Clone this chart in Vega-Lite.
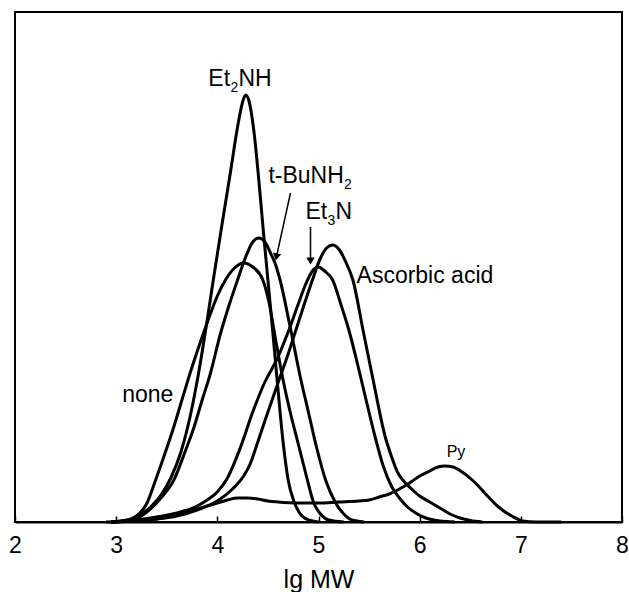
{
  "$schema": "https://vega.github.io/schema/vega-lite/v6.json",
  "width": 607,
  "height": 510,
  "autosize": {"type": "none"},
  "padding": {"left": 15, "top": 12, "right": 7, "bottom": 70},
  "background": "white",
  "config": {
    "view": {"stroke": "black", "strokeWidth": 2},
    "font": "Liberation Sans"
  },
  "datasets": {
    "curves": [
      {"series": "Et2NH", "lgMW": 2.95, "h": 0},
      {"series": "Et2NH", "lgMW": 3.15, "h": 3},
      {"series": "Et2NH", "lgMW": 3.25, "h": 8},
      {"series": "Et2NH", "lgMW": 3.35, "h": 16},
      {"series": "Et2NH", "lgMW": 3.45, "h": 28},
      {"series": "Et2NH", "lgMW": 3.54, "h": 44},
      {"series": "Et2NH", "lgMW": 3.64, "h": 70},
      {"series": "Et2NH", "lgMW": 3.73, "h": 105},
      {"series": "Et2NH", "lgMW": 3.82, "h": 152},
      {"series": "Et2NH", "lgMW": 3.90, "h": 202},
      {"series": "Et2NH", "lgMW": 3.96, "h": 242},
      {"series": "Et2NH", "lgMW": 4.05, "h": 300},
      {"series": "Et2NH", "lgMW": 4.13, "h": 350},
      {"series": "Et2NH", "lgMW": 4.20, "h": 395},
      {"series": "Et2NH", "lgMW": 4.25, "h": 420},
      {"series": "Et2NH", "lgMW": 4.28, "h": 427},
      {"series": "Et2NH", "lgMW": 4.31, "h": 422},
      {"series": "Et2NH", "lgMW": 4.36, "h": 392},
      {"series": "Et2NH", "lgMW": 4.41, "h": 342},
      {"series": "Et2NH", "lgMW": 4.46, "h": 285},
      {"series": "Et2NH", "lgMW": 4.50, "h": 242},
      {"series": "Et2NH", "lgMW": 4.55, "h": 188},
      {"series": "Et2NH", "lgMW": 4.60, "h": 132},
      {"series": "Et2NH", "lgMW": 4.65, "h": 80},
      {"series": "Et2NH", "lgMW": 4.70, "h": 42},
      {"series": "Et2NH", "lgMW": 4.76, "h": 20},
      {"series": "Et2NH", "lgMW": 4.82, "h": 8},
      {"series": "Et2NH", "lgMW": 4.90, "h": 2},
      {"series": "Et2NH", "lgMW": 5.00, "h": 0},

      {"series": "none", "lgMW": 2.95, "h": 0},
      {"series": "none", "lgMW": 3.12, "h": 2},
      {"series": "none", "lgMW": 3.20, "h": 6},
      {"series": "none", "lgMW": 3.30, "h": 18},
      {"series": "none", "lgMW": 3.39, "h": 42},
      {"series": "none", "lgMW": 3.47, "h": 65},
      {"series": "none", "lgMW": 3.56, "h": 92},
      {"series": "none", "lgMW": 3.65, "h": 122},
      {"series": "none", "lgMW": 3.75, "h": 155},
      {"series": "none", "lgMW": 3.85, "h": 185},
      {"series": "none", "lgMW": 3.92, "h": 205},
      {"series": "none", "lgMW": 4.00, "h": 226},
      {"series": "none", "lgMW": 4.08, "h": 242},
      {"series": "none", "lgMW": 4.17, "h": 254},
      {"series": "none", "lgMW": 4.26, "h": 259},
      {"series": "none", "lgMW": 4.35, "h": 255},
      {"series": "none", "lgMW": 4.45, "h": 242},
      {"series": "none", "lgMW": 4.51, "h": 220},
      {"series": "none", "lgMW": 4.58, "h": 180},
      {"series": "none", "lgMW": 4.65, "h": 142},
      {"series": "none", "lgMW": 4.72, "h": 110},
      {"series": "none", "lgMW": 4.79, "h": 82},
      {"series": "none", "lgMW": 4.85, "h": 58},
      {"series": "none", "lgMW": 4.89, "h": 42},
      {"series": "none", "lgMW": 4.95, "h": 20},
      {"series": "none", "lgMW": 5.02, "h": 8},
      {"series": "none", "lgMW": 5.10, "h": 2},
      {"series": "none", "lgMW": 5.25, "h": 0},

      {"series": "tBuNH2", "lgMW": 2.95, "h": 0},
      {"series": "tBuNH2", "lgMW": 3.15, "h": 2},
      {"series": "tBuNH2", "lgMW": 3.25, "h": 6},
      {"series": "tBuNH2", "lgMW": 3.35, "h": 14},
      {"series": "tBuNH2", "lgMW": 3.45, "h": 25},
      {"series": "tBuNH2", "lgMW": 3.57, "h": 42},
      {"series": "tBuNH2", "lgMW": 3.68, "h": 70},
      {"series": "tBuNH2", "lgMW": 3.77, "h": 95},
      {"series": "tBuNH2", "lgMW": 3.85, "h": 122},
      {"series": "tBuNH2", "lgMW": 3.93, "h": 148},
      {"series": "tBuNH2", "lgMW": 4.03, "h": 188},
      {"series": "tBuNH2", "lgMW": 4.12, "h": 218},
      {"series": "tBuNH2", "lgMW": 4.20, "h": 242},
      {"series": "tBuNH2", "lgMW": 4.28, "h": 265},
      {"series": "tBuNH2", "lgMW": 4.35, "h": 280},
      {"series": "tBuNH2", "lgMW": 4.41, "h": 284},
      {"series": "tBuNH2", "lgMW": 4.47, "h": 280},
      {"series": "tBuNH2", "lgMW": 4.53, "h": 268},
      {"series": "tBuNH2", "lgMW": 4.57, "h": 259},
      {"series": "tBuNH2", "lgMW": 4.62, "h": 242},
      {"series": "tBuNH2", "lgMW": 4.72, "h": 195},
      {"series": "tBuNH2", "lgMW": 4.82, "h": 145},
      {"series": "tBuNH2", "lgMW": 4.90, "h": 110},
      {"series": "tBuNH2", "lgMW": 4.98, "h": 75},
      {"series": "tBuNH2", "lgMW": 5.07, "h": 42},
      {"series": "tBuNH2", "lgMW": 5.17, "h": 19},
      {"series": "tBuNH2", "lgMW": 5.25, "h": 8},
      {"series": "tBuNH2", "lgMW": 5.33, "h": 2},
      {"series": "tBuNH2", "lgMW": 5.45, "h": 0},

      {"series": "Et3N", "lgMW": 2.95, "h": 0},
      {"series": "Et3N", "lgMW": 3.20, "h": 2},
      {"series": "Et3N", "lgMW": 3.40, "h": 5},
      {"series": "Et3N", "lgMW": 3.60, "h": 9},
      {"series": "Et3N", "lgMW": 3.80, "h": 16},
      {"series": "Et3N", "lgMW": 3.90, "h": 22},
      {"series": "Et3N", "lgMW": 4.00, "h": 30},
      {"series": "Et3N", "lgMW": 4.10, "h": 44},
      {"series": "Et3N", "lgMW": 4.23, "h": 75},
      {"series": "Et3N", "lgMW": 4.35, "h": 110},
      {"series": "Et3N", "lgMW": 4.47, "h": 140},
      {"series": "Et3N", "lgMW": 4.59, "h": 163},
      {"series": "Et3N", "lgMW": 4.70, "h": 190},
      {"series": "Et3N", "lgMW": 4.80, "h": 218},
      {"series": "Et3N", "lgMW": 4.87, "h": 237},
      {"series": "Et3N", "lgMW": 4.94, "h": 251},
      {"series": "Et3N", "lgMW": 5.00, "h": 255},
      {"series": "Et3N", "lgMW": 5.06, "h": 251},
      {"series": "Et3N", "lgMW": 5.14, "h": 242},
      {"series": "Et3N", "lgMW": 5.22, "h": 218},
      {"series": "Et3N", "lgMW": 5.30, "h": 192},
      {"series": "Et3N", "lgMW": 5.40, "h": 152},
      {"series": "Et3N", "lgMW": 5.48, "h": 118},
      {"series": "Et3N", "lgMW": 5.56, "h": 85},
      {"series": "Et3N", "lgMW": 5.64, "h": 56},
      {"series": "Et3N", "lgMW": 5.72, "h": 36},
      {"series": "Et3N", "lgMW": 5.80, "h": 24},
      {"series": "Et3N", "lgMW": 5.88, "h": 15},
      {"series": "Et3N", "lgMW": 5.96, "h": 9},
      {"series": "Et3N", "lgMW": 6.06, "h": 4},
      {"series": "Et3N", "lgMW": 6.20, "h": 1},
      {"series": "Et3N", "lgMW": 6.35, "h": 0},

      {"series": "Ascorbic", "lgMW": 2.95, "h": 0},
      {"series": "Ascorbic", "lgMW": 3.20, "h": 1},
      {"series": "Ascorbic", "lgMW": 3.40, "h": 3},
      {"series": "Ascorbic", "lgMW": 3.60, "h": 6},
      {"series": "Ascorbic", "lgMW": 3.80, "h": 12},
      {"series": "Ascorbic", "lgMW": 4.00, "h": 21},
      {"series": "Ascorbic", "lgMW": 4.15, "h": 33},
      {"series": "Ascorbic", "lgMW": 4.26, "h": 46},
      {"series": "Ascorbic", "lgMW": 4.32, "h": 57},
      {"series": "Ascorbic", "lgMW": 4.40, "h": 80},
      {"series": "Ascorbic", "lgMW": 4.50, "h": 110},
      {"series": "Ascorbic", "lgMW": 4.62, "h": 145},
      {"series": "Ascorbic", "lgMW": 4.70, "h": 168},
      {"series": "Ascorbic", "lgMW": 4.78, "h": 193},
      {"series": "Ascorbic", "lgMW": 4.86, "h": 218},
      {"series": "Ascorbic", "lgMW": 4.94, "h": 242},
      {"series": "Ascorbic", "lgMW": 5.02, "h": 264},
      {"series": "Ascorbic", "lgMW": 5.08, "h": 274},
      {"series": "Ascorbic", "lgMW": 5.14, "h": 277},
      {"series": "Ascorbic", "lgMW": 5.20, "h": 273},
      {"series": "Ascorbic", "lgMW": 5.27, "h": 260},
      {"series": "Ascorbic", "lgMW": 5.34, "h": 242},
      {"series": "Ascorbic", "lgMW": 5.44, "h": 192},
      {"series": "Ascorbic", "lgMW": 5.54, "h": 142},
      {"series": "Ascorbic", "lgMW": 5.66, "h": 85},
      {"series": "Ascorbic", "lgMW": 5.72, "h": 66},
      {"series": "Ascorbic", "lgMW": 5.78, "h": 50},
      {"series": "Ascorbic", "lgMW": 5.85, "h": 40},
      {"series": "Ascorbic", "lgMW": 5.92, "h": 33},
      {"series": "Ascorbic", "lgMW": 6.00, "h": 26},
      {"series": "Ascorbic", "lgMW": 6.10, "h": 20},
      {"series": "Ascorbic", "lgMW": 6.20, "h": 14},
      {"series": "Ascorbic", "lgMW": 6.30, "h": 8},
      {"series": "Ascorbic", "lgMW": 6.40, "h": 4},
      {"series": "Ascorbic", "lgMW": 6.50, "h": 1.5},
      {"series": "Ascorbic", "lgMW": 6.62, "h": 0},

      {"series": "Py", "lgMW": 2.90, "h": 0},
      {"series": "Py", "lgMW": 3.20, "h": 1},
      {"series": "Py", "lgMW": 3.40, "h": 3},
      {"series": "Py", "lgMW": 3.60, "h": 7},
      {"series": "Py", "lgMW": 3.80, "h": 13},
      {"series": "Py", "lgMW": 4.00, "h": 19},
      {"series": "Py", "lgMW": 4.10, "h": 22},
      {"series": "Py", "lgMW": 4.20, "h": 24},
      {"series": "Py", "lgMW": 4.30, "h": 24},
      {"series": "Py", "lgMW": 4.40, "h": 23},
      {"series": "Py", "lgMW": 4.50, "h": 21},
      {"series": "Py", "lgMW": 4.60, "h": 20},
      {"series": "Py", "lgMW": 4.80, "h": 19},
      {"series": "Py", "lgMW": 5.00, "h": 19},
      {"series": "Py", "lgMW": 5.20, "h": 20},
      {"series": "Py", "lgMW": 5.40, "h": 21},
      {"series": "Py", "lgMW": 5.50, "h": 22},
      {"series": "Py", "lgMW": 5.60, "h": 25},
      {"series": "Py", "lgMW": 5.70, "h": 28},
      {"series": "Py", "lgMW": 5.80, "h": 33},
      {"series": "Py", "lgMW": 5.90, "h": 39},
      {"series": "Py", "lgMW": 6.00, "h": 46},
      {"series": "Py", "lgMW": 6.10, "h": 51},
      {"series": "Py", "lgMW": 6.18, "h": 55},
      {"series": "Py", "lgMW": 6.25, "h": 56},
      {"series": "Py", "lgMW": 6.33, "h": 55},
      {"series": "Py", "lgMW": 6.42, "h": 50},
      {"series": "Py", "lgMW": 6.52, "h": 42},
      {"series": "Py", "lgMW": 6.58, "h": 36},
      {"series": "Py", "lgMW": 6.68, "h": 25},
      {"series": "Py", "lgMW": 6.78, "h": 15},
      {"series": "Py", "lgMW": 6.91, "h": 6},
      {"series": "Py", "lgMW": 7.02, "h": 1},
      {"series": "Py", "lgMW": 7.15, "h": 0},
      {"series": "Py", "lgMW": 7.40, "h": 0}
    ],
    "labels": [
      {"text": "Et", "lgMW": 3.911, "h": 436},
      {"text": "NH", "lgMW": 4.208, "h": 436},
      {"text": "t-BuNH", "lgMW": 4.505, "h": 339},
      {"text": "Et", "lgMW": 4.871, "h": 303},
      {"text": "N", "lgMW": 5.168, "h": 303},
      {"text": "Ascorbic acid", "lgMW": 5.376, "h": 239},
      {"text": "none", "lgMW": 3.059, "h": 120}
    ],
    "subs": [
      {"text": "2", "lgMW": 4.129, "h": 430},
      {"text": "2", "lgMW": 5.252, "h": 333},
      {"text": "3", "lgMW": 5.089, "h": 297}
    ],
    "small": [
      {"text": "Py", "lgMW": 6.267, "h": 65}
    ],
    "arrows": [
      {"name": "tBuNH2", "x1": 4.723, "y1": 329, "x2": 4.584, "y2": 265, "ang": 12},
      {"name": "Et3N", "x1": 4.921, "y1": 295, "x2": 4.921, "y2": 261, "ang": 0}
    ]
  },
  "layer": [
    {
      "data": {"name": "curves"},
      "mark": {"type": "line", "color": "black", "strokeWidth": 3, "interpolate": "monotone"},
      "encoding": {
        "x": {
          "field": "lgMW", "type": "quantitative",
          "scale": {"domain": [2, 8], "nice": false, "zero": false},
          "axis": {
            "values": [2, 3, 4, 5, 6, 7, 8],
            "format": "d",
            "title": "lg MW",
            "grid": false,
            "domainColor": "black", "domainWidth": 2,
            "tickColor": "black", "tickSize": -6, "tickWidth": 1.5,
            "labelFont": "Liberation Sans", "labelFontSize": 23, "labelColor": "black",
            "labelPadding": 18, "labelFlush": false,
            "titleFont": "Liberation Sans", "titleFontSize": 25, "titleFontWeight": "normal",
            "titleColor": "black", "titlePadding": 10
          }
        },
        "y": {
          "field": "h", "type": "quantitative",
          "scale": {"domain": [0, 510], "nice": false},
          "axis": null
        },
        "detail": {"field": "series"}
      }
    },
    {
      "data": {"name": "arrows"},
      "mark": {"type": "rule", "color": "black", "strokeWidth": 1.5},
      "encoding": {
        "x": {"field": "x1", "type": "quantitative"},
        "y": {"field": "y1", "type": "quantitative"},
        "x2": {"field": "x2"},
        "y2": {"field": "y2"}
      }
    },
    {
      "data": {"name": "arrows"},
      "mark": {"type": "point", "shape": "triangle-down", "filled": true, "color": "black", "size": 70, "opacity": 1},
      "encoding": {
        "x": {"field": "x2", "type": "quantitative"},
        "y": {"field": "y2", "type": "quantitative"},
        "angle": {"field": "ang", "type": "quantitative", "scale": null}
      }
    },
    {
      "data": {"name": "labels"},
      "mark": {"type": "text", "font": "Liberation Sans", "fontSize": 23, "align": "left", "baseline": "alphabetic", "color": "black"},
      "encoding": {
        "x": {"field": "lgMW", "type": "quantitative"},
        "y": {"field": "h", "type": "quantitative"},
        "text": {"field": "text"}
      }
    },
    {
      "data": {"name": "subs"},
      "mark": {"type": "text", "font": "Liberation Sans", "fontSize": 14, "align": "left", "baseline": "alphabetic", "color": "black"},
      "encoding": {
        "x": {"field": "lgMW", "type": "quantitative"},
        "y": {"field": "h", "type": "quantitative"},
        "text": {"field": "text"}
      }
    },
    {
      "data": {"name": "small"},
      "mark": {"type": "text", "font": "Liberation Sans", "fontSize": 16, "align": "left", "baseline": "alphabetic", "color": "black"},
      "encoding": {
        "x": {"field": "lgMW", "type": "quantitative"},
        "y": {"field": "h", "type": "quantitative"},
        "text": {"field": "text"}
      }
    }
  ]
}
